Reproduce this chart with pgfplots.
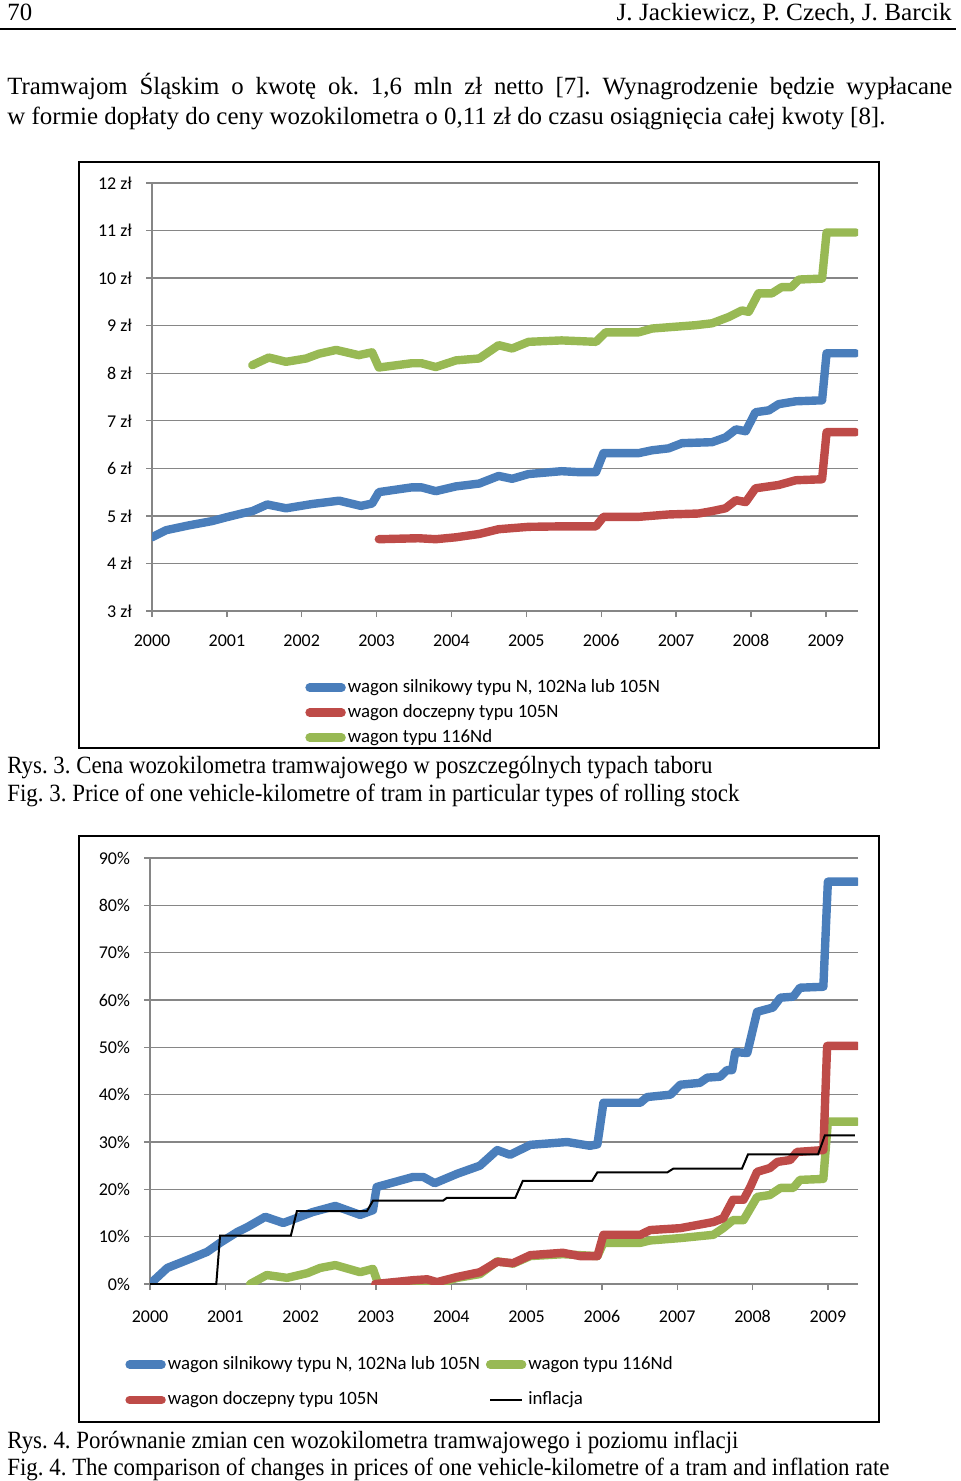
\documentclass[border=0pt]{standalone}
\usepackage{pgfplots}
\pgfplotsset{compat=1.18}
\usepackage{fontspec}
\setmainfont{Liberation Serif}
\newfontfamily\calibri{Carlito}
\definecolor{xblue}{RGB}{74,126,187}
\definecolor{xred}{RGB}{190,75,72}
\definecolor{xgreen}{RGB}{152,185,84}
\definecolor{axgray}{RGB}{134,134,134}
\pgfplotsset{
  excel/.style={
    scale only axis,
    axis lines=left,
    axis line style={-, draw=axgray, line width=0.8pt},
    ymajorgrids,
    major grid style={draw=axgray, line width=0.7pt},
    tick style={draw=axgray, line width=0.7pt},
    tick align=outside,
    major tick length=3pt,
    xtick={2000,2001,2002,2003,2004,2005,2006,2007,2008,2009},
    xticklabels={2000,2001,2002,2003,2004,2005,2006,2007,2008,2009},
    ticklabel style={font=\calibri\fontsize{9}{11}\selectfont},
    /pgf/number format/assume math mode=true,
    yticklabel style={xshift=-3.5pt},
    xticklabel style={text height=6.2pt, text depth=0pt},
    legend cell align=left,
    legend image code/.code={\draw[#1, line cap=round] (2pt,0pt) -- (18pt,0pt);},
    legend style={draw=none, fill=none, anchor=north west, inner sep=0pt,
      font=\calibri\fontsize{9.4}{11}\selectfont,
      nodes={inner sep=1pt, text height=6.8pt, text depth=2.3pt},
      /tikz/every even column/.append style={column sep=2pt}},
  },
  ser/.style={line width=4.2pt, line join=round, line cap=round},
}
\newcommand{\bodyfont}{\fontsize{12.4}{14}\selectfont}
\begin{document}
\frenchspacing
\begin{tikzpicture}[x=0.5pt,y=-0.5pt]
\useasboundingbox (0,0) rectangle (960,1481);
% header
\node[anchor=base west, inner sep=0pt, font=\bodyfont] at (7,21) {70};
\node[anchor=base east, inner sep=0pt, font=\bodyfont] at (952,21) {\resizebox{167.5pt}{\height}{J. Jackiewicz, P. Czech, J. Barcik}};
\draw[line width=0.9pt] (0,29) -- (956,29);
% body text
\node[anchor=base west, inner sep=0pt, font=\bodyfont] at (7,95) {\makebox[472.5pt][s]{Tramwajom Śląskim o kwotę ok. 1,6 mln zł netto [7]. Wynagrodzenie będzie wypłacane}};
\node[anchor=base west, inner sep=0pt, font=\bodyfont] at (7,125) {\resizebox{439pt}{\height}{w formie dopłaty do ceny wozokilometra o 0,11 zł do czasu osiągnięcia całej kwoty [8].}};
% frames
\draw[line width=0.9pt] (79,162) rectangle (879,748);
\draw[line width=0.9pt] (79,836) rectangle (879,1422);
% captions
\node[anchor=base west, inner sep=0pt, font=\bodyfont] at (7,773) {\resizebox{352.5pt}{\height}{Rys. 3. Cena wozokilometra tramwajowego w poszczególnych typach taboru}};
\node[anchor=base west, inner sep=0pt, font=\bodyfont] at (7,801) {\resizebox{366pt}{\height}{Fig. 3. Price of one vehicle-kilometre of tram in particular types of rolling stock}};
\node[anchor=base west, inner sep=0pt, font=\bodyfont] at (7,1448) {\resizebox{365.5pt}{\height}{Rys. 4. Porównanie zmian cen wozokilometra tramwajowego i poziomu inflacji}};
\node[anchor=base west, inner sep=0pt, font=\bodyfont] at (7,1475) {\resizebox{441pt}{\height}{Fig. 4. The comparison of changes in prices of one vehicle-kilometre of a tram and inflation rate}};

% ---------- Chart 1 ----------
\begin{axis}[excel,
  at={(76pt,-305.5pt)}, anchor=south west,
  width=353pt, height=214pt,
  xmin=2000, xmax=2009.43, ymin=3, ymax=12,
  ytick={3,4,5,6,7,8,9,10,11,12},
  yticklabels={3 zł,4 zł,5 zł,6 zł,7 zł,8 zł,9 zł,10 zł,11 zł,12 zł},
  xticklabel style={yshift=-5pt},
  legend style={at={(0.2167,-0.152)}, row sep=1.4pt},
]
\addplot[ser, xblue] coordinates {
(2000.00,4.55)(2000.19,4.70)(2000.49,4.80)(2000.80,4.89)(2000.99,4.97)
(2001.25,5.07)(2001.34,5.10)(2001.54,5.24)(2001.79,5.16)(2002.14,5.25)
(2002.50,5.32)(2002.79,5.21)(2002.94,5.26)(2003.03,5.50)(2003.47,5.60)
(2003.60,5.60)(2003.79,5.52)(2004.06,5.62)(2004.37,5.68)(2004.63,5.84)
(2004.81,5.78)(2005.03,5.88)(2005.47,5.94)(2005.70,5.92)(2005.93,5.92)
(2006.03,6.32)(2006.50,6.32)(2006.68,6.38)(2006.90,6.42)(2007.08,6.53)
(2007.48,6.55)(2007.66,6.65)(2007.80,6.82)(2007.93,6.78)(2008.06,7.18)
(2008.24,7.22)(2008.37,7.35)(2008.60,7.41)(2008.95,7.43)(2009.01,8.42)
(2009.40,8.42)};
\addlegendentry{wagon silnikowy typu N, 102Na lub 105N}
\addplot[ser, xred] coordinates {
(2003.03,4.51)(2003.56,4.53)(2003.79,4.51)(2004.06,4.55)(2004.37,4.62)
(2004.63,4.72)(2005.03,4.77)(2005.47,4.78)(2005.93,4.78)(2006.03,4.98)
(2006.50,4.98)(2006.90,5.03)(2007.30,5.05)(2007.48,5.10)(2007.66,5.16)
(2007.80,5.33)(2007.93,5.29)(2008.06,5.58)(2008.37,5.65)(2008.60,5.75)
(2008.95,5.77)(2009.01,6.76)(2009.40,6.76)};
\addlegendentry{wagon doczepny typu 105N}
\addplot[ser, xgreen] coordinates {
(2001.34,8.17)(2001.56,8.33)(2001.79,8.24)(2002.06,8.31)(2002.23,8.41)
(2002.46,8.49)(2002.76,8.38)(2002.94,8.44)(2003.03,8.12)(2003.47,8.21)
(2003.60,8.21)(2003.79,8.13)(2004.06,8.27)(2004.37,8.31)(2004.63,8.59)
(2004.81,8.52)(2005.03,8.66)(2005.47,8.69)(2005.93,8.66)(2006.06,8.86)
(2006.50,8.86)(2006.68,8.94)(2007.26,9.01)(2007.48,9.05)(2007.70,9.18)
(2007.88,9.32)(2007.97,9.29)(2008.10,9.68)(2008.28,9.68)(2008.41,9.81)
(2008.54,9.81)(2008.64,9.97)(2008.95,9.99)(2009.01,10.96)(2009.40,10.96)};
\addlegendentry{wagon typu 116Nd}
\end{axis}

% ---------- Chart 2 ----------
\begin{axis}[excel,
  at={(75pt,-642pt)}, anchor=south west,
  width=354pt, height=213pt,
  xmin=2000, xmax=2009.40, ymin=0, ymax=90,
  ytick={0,10,20,30,40,50,60,70,80,90},
  yticklabels={0\%,10\%,20\%,30\%,40\%,50\%,60\%,70\%,80\%,90\%},
  xticklabel style={yshift=-6.5pt},
  legend columns=2,
  legend style={at={(-0.0353,-0.162)}, row sep=6.6pt},
]
\addplot[ser, xblue] coordinates {
(2000.00,0)(2000.23,3.4)(2000.53,5.3)(2000.76,6.8)(2000.93,8.7)
(2001.16,11.0)(2001.29,12.0)(2001.53,14.2)(2001.77,12.9)(2002.16,15.2)
(2002.46,16.5)(2002.79,14.6)(2002.96,15.6)(2003.01,20.5)(2003.49,22.6)
(2003.63,22.6)(2003.78,21.3)(2004.08,23.3)(2004.38,25.0)(2004.61,28.3)
(2004.78,27.3)(2005.05,29.4)(2005.54,30.0)(2005.84,29.2)(2005.94,29.5)
(2006.02,38.3)(2006.51,38.3)(2006.60,39.5)(2006.91,40.0)(2007.04,42.1)
(2007.30,42.5)(2007.40,43.6)(2007.57,43.8)(2007.66,45.2)(2007.73,45.2)
(2007.77,49.0)(2007.93,48.8)(2008.06,57.5)(2008.27,58.4)(2008.37,60.5)
(2008.54,60.7)(2008.63,62.6)(2008.94,62.8)(2009.00,85.0)(2009.39,85.0)};
\addlegendentry{wagon silnikowy typu N, 102Na lub 105N}
\addplot[ser, xgreen] coordinates {
(2001.33,0)(2001.55,1.9)(2001.82,1.3)(2002.09,2.3)(2002.26,3.4)
(2002.46,4.0)(2002.79,2.5)(2002.96,3.2)(2003.03,0)(2003.49,0.5)
(2003.81,0)(2004.08,1.3)(2004.38,2.1)(2004.61,4.8)(2004.82,4.3)
(2005.05,5.9)(2005.48,6.3)(2005.94,5.9)(2006.02,8.7)(2006.51,8.7)
(2006.64,9.2)(2007.04,9.7)(2007.48,10.4)(2007.61,11.8)(2007.74,13.5)
(2007.88,13.5)(2008.06,18.4)(2008.23,18.8)(2008.37,20.3)(2008.54,20.3)
(2008.63,22.0)(2008.94,22.2)(2009.00,34.3)(2009.39,34.3)};
\addlegendentry{wagon typu 116Nd}
\addplot[ser, xred] coordinates {
(2002.99,0)(2003.49,0.8)(2003.68,1.0)(2003.81,0.4)(2004.08,1.5)
(2004.38,2.5)(2004.61,4.7)(2004.82,4.4)(2005.05,6.1)(2005.48,6.6)
(2005.71,5.9)(2005.94,5.9)(2006.02,10.4)(2006.51,10.4)(2006.64,11.4)
(2007.04,11.8)(2007.21,12.3)(2007.48,13.1)(2007.61,13.9)(2007.74,17.8)
(2007.88,17.8)(2007.97,20.5)(2008.06,23.7)(2008.23,24.5)(2008.33,25.8)
(2008.50,26.2)(2008.59,27.9)(2008.94,28.3)(2008.99,50.3)(2009.39,50.3)};
\addlegendentry{wagon doczepny typu 105N}
\addplot[black, line width=1pt, legend image code/.code={\draw[black, line width=1.2pt] (2pt,0pt) -- (18pt,0pt);}] coordinates {
(2000.00,0)(2000.88,0)(2000.93,10.2)(2001.87,10.2)(2001.95,15.4)
(2002.88,15.4)(2002.96,17.6)(2003.89,17.6)(2003.94,18.2)(2004.85,18.2)
(2004.95,21.8)(2005.87,21.8)(2005.94,23.6)(2006.87,23.6)(2006.95,24.4)
(2007.86,24.4)(2007.94,27.4)(2008.87,27.4)(2008.96,31.4)(2009.36,31.4)};
\addlegendentry{inflacja}
\end{axis}
\end{tikzpicture}
\end{document}
